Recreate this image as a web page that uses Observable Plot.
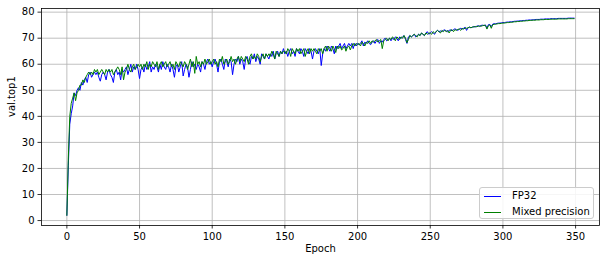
<!DOCTYPE html>
<html>
<head>
<meta charset="utf-8">
<script src="https://cdn.jsdelivr.net/npm/d3@7"></script>
<script src="https://cdn.jsdelivr.net/npm/@observablehq/plot@0.6"></script>
<style>
  html, body { margin: 0; padding: 0; background: #fff; }
  #wrap { position: relative; width: 606px; height: 263px; }
  #legend {
    position: absolute; left: 479px; top: 187px; width: 115px; height: 32px;
    border: 1px solid #cccccc; border-radius: 3px; background: rgba(255,255,255,0.85);
    font-family: "DejaVu Sans", sans-serif; font-size: 10px; color: #000; box-sizing: border-box;
  }
  .item { position: absolute; left: 0; height: 14px; display: flex; align-items: center; }
  .sw { position: absolute; left: 4px; width: 17px; height: 0; border-top: 1.2px solid; }
  .lbl { position: absolute; left: 32px; white-space: nowrap; line-height: 14px; }
</style>
</head>
<body>
<div id="wrap">
  <div id="chart"></div>
  <div id="legend"></div>
</div>
<script>
const seriesNames = ["FP32", "Mixed precision"];
const seriesColors = ["#0000ff", "#008000"];
const xTicks = [0, 50, 100, 150, 200, 250, 300, 350];
const yTicks = [0, 10, 20, 30, 40, 50, 60, 70, 80];

const fp32 = [
  2, 21, 37, 41, 44, 49, 48, 50, 51, 50,
  53, 52, 54, 55, 53, 56, 57, 55, 56, 57,
  56, 57, 55, 53.5, 56, 57, 56, 54, 57, 58,
  56, 55, 53, 57, 58, 56, 57, 54, 58, 57,
  58, 59, 56, 58, 60, 57, 59, 58, 60, 58,
  54.5, 58, 59, 57, 60, 58, 59, 61, 57, 59,
  58, 60, 59, 57, 60, 58, 61, 59, 58, 60,
  59, 57, 60, 58, 55, 59, 60, 57, 59, 61,
  55.5, 58, 60, 59, 55, 58, 61, 59, 60, 58,
  60, 59, 57, 61, 60, 58, 61, 62, 60, 61,
  59, 61, 62, 60, 57, 61, 62, 60, 58, 62,
  61, 59, 62, 61, 56, 60, 62, 61, 63, 60,
  62, 61, 58, 62, 63, 61, 60, 63, 62, 64,
  61, 63, 62, 60, 64, 63, 62, 64, 63, 62,
  64, 63, 65, 62, 64, 65, 63, 65, 64, 66,
  64, 65, 63, 65, 66, 64, 65, 63, 66, 65,
  64, 66, 65, 63, 66, 65, 64, 66, 65, 62,
  65, 66, 65, 64, 66, 59.5, 64, 66, 65, 67,
  66, 65, 67, 66, 64, 67, 66, 67, 68, 66,
  67, 68, 66, 67, 68, 67, 68, 66, 68, 67,
  68, 67.5, 68, 69, 67, 68.5, 68, 69, 68, 67.5,
  68.5, 69, 68, 69, 69.5, 68, 69, 68.5, 69.5, 70,
  69, 69.5, 70, 69, 70, 69.5, 70.5, 70, 69, 70.5,
  70, 70.5, 71, 69.5, 68, 70.5, 71, 70.5, 71, 71.5,
  70.5, 71, 71.5, 71, 72, 71.5, 71, 72, 72.5, 71.5,
  72, 72.5, 72, 71.5, 72.5, 73, 72.5, 72.8, 72.5, 73,
  73.2, 72.8, 72.5, 73, 73.2, 72.8, 73.3, 73.6, 73.3, 73,
  73.5, 73.8, 73.5, 73.8, 74.2, 73, 74, 74.3, 74, 74.2,
  74.5, 74.3, 74.6, 74.8, 74.5, 74.9, 75, 74.8, 75.1, 73.8,
  75.2, 75.3, 74.5, 75.4, 75.6, 75.5, 75.7, 75.8, 75.8, 75.9,
  76, 76, 76.1, 76.2, 76.2, 76.3, 76.3, 76.4, 76.5, 76.5,
  76.6, 76.6, 76.7, 76.7, 76.8, 76.8, 76.9, 76.9, 77, 77,
  77, 77.1, 77.1, 77.2, 77.2, 77.2, 77.3, 77.3, 77.3, 77.4,
  77.4, 77.4, 77.4, 77.5, 77.5, 77.5, 77.5, 77.5, 77.6, 77.6,
  77.6, 77.6, 77.6, 77.6, 77.6, 77.7, 77.7, 77.7, 77.7, 77.7
];

const mixed = [
  2, 24, 40, 45, 47, 49, 46, 49, 50, 52,
  52, 54, 53, 55, 56, 57, 56, 57, 56, 58,
  57, 58, 56, 57, 58, 57, 56, 58, 57, 58,
  57, 58, 56, 57, 58, 59, 58, 56, 59, 54,
  57, 58, 60, 58, 57, 59, 60, 58, 59, 60,
  59, 60, 58, 60, 59, 61, 58, 60, 59, 61,
  60, 59, 61, 58, 60, 61, 59, 60, 61, 59,
  60, 61, 59, 60, 58, 61, 60, 59, 61, 60,
  59, 61, 60, 58, 60, 62, 59, 61, 56.5, 63,
  60, 61, 59, 61, 60, 62, 60, 61, 62, 60,
  61, 62, 60, 61, 59, 62, 61, 63, 60, 61,
  62, 60, 61, 63, 61, 62, 60, 62, 63, 61,
  63, 62, 61, 63, 62, 60, 63, 64, 62, 63,
  62, 64, 63, 61, 63, 64, 62, 64, 63, 64,
  63, 65, 64, 62, 65, 64, 63, 65, 64, 65,
  65, 64, 66, 65, 63, 66, 65, 64, 66, 65,
  66, 64, 65, 66, 63, 65, 66, 64, 66, 65,
  66, 65, 64, 66, 65, 66, 64, 66, 67, 65,
  67, 66, 65, 67, 66, 64.5, 67, 66, 67, 65.5,
  66, 67, 65, 66.5, 67, 65.5, 67, 68, 67, 68,
  67.5, 68, 67, 68.5, 68, 67, 68.5, 68, 69, 68,
  69, 68.5, 69, 69.5, 68.5, 69, 69.5, 66, 69, 69.5,
  70, 69, 70, 69.5, 70.5, 70, 69, 70.5, 70, 69.5,
  70.5, 70, 71, 70, 68.3, 69.5, 71, 70.5, 71, 71.5,
  71, 70.5, 71.5, 71, 72, 71.5, 71, 72, 71.5, 72,
  72, 71.5, 72.5, 72, 72.5, 73, 72.5, 72, 73, 72.5,
  73, 72.5, 73, 72, 73, 73.3, 72.5, 73.3, 73, 73.4,
  73.5, 73, 73.8, 73.5, 73.9, 73.8, 74, 74.2, 74, 74.3,
  74.3, 74.5, 74.4, 74.6, 74.7, 74.6, 74.8, 75, 74.9, 73.5,
  74.8, 75.1, 73.8, 75.2, 75.3, 75.4, 75.5, 75.6, 75.6, 75.7,
  75.8, 75.8, 75.9, 76, 76, 76.1, 76.1, 76.2, 76.3, 76.3,
  76.4, 76.4, 76.5, 76.5, 76.6, 76.6, 76.7, 76.7, 76.8, 76.8,
  76.9, 76.9, 76.9, 77, 77, 77, 77.1, 77.1, 77.1, 77.2,
  77.2, 77.2, 77.2, 77.3, 77.3, 77.3, 77.3, 77.3, 77.4, 77.4,
  77.4, 77.4, 77.4, 77.4, 77.4, 77.5, 77.5, 77.5, 77.5, 77.5
];

const rows = (arr) => arr.map((v, i) => ({epoch: i, value: v}));
const seriesData = [rows(fp32), rows(mixed)];

const gridStyle = {stroke: "#b0b0b0", strokeOpacity: 1, strokeWidth: 0.8};

const chart = Plot.plot({
  width: 606,
  height: 263,
  marginLeft: 41,
  marginRight: 7,
  marginTop: 8,
  marginBottom: 38,
  style: {fontFamily: "DejaVu Sans, sans-serif", fontSize: "10px", color: "#000", background: "#fff"},
  x: {domain: [-17.45, 366.45]},
  y: {domain: [-1.9, 81.4]},
  marks: [
    Plot.gridX(xTicks, gridStyle),
    Plot.gridY(yTicks, gridStyle),
    Plot.line(seriesData[0], {x: "epoch", y: "value", stroke: seriesColors[0], strokeWidth: 1}),
    Plot.line(seriesData[1], {x: "epoch", y: "value", stroke: seriesColors[1], strokeWidth: 1}),
    Plot.frame({stroke: "#000", strokeWidth: 0.8}),
    Plot.axisX(xTicks, {tickSize: 3.5, tickPadding: 3.5, label: null, stroke: "#000", strokeWidth: 0.8}),
    Plot.axisY(yTicks, {tickSize: 3.5, tickPadding: 3.5, label: null, stroke: "#000", strokeWidth: 0.8}),
    Plot.text(["Epoch"], {text: d => d, frameAnchor: "bottom", dy: 26, fill: "#000"}),
    Plot.text(["val.top1"], {text: d => d, frameAnchor: "left", dx: -30, rotate: -90, fill: "#000"})
  ]
});
document.getElementById("chart").appendChild(chart);

const legend = document.getElementById("legend");
seriesNames.forEach((name, i) => {
  const item = document.createElement("div");
  item.className = "item";
  item.style.top = (1 + i * 15.5) + "px";
  item.innerHTML = `<span class="sw" style="border-color:${seriesColors[i]};top:7px"></span><span class="lbl">${name}</span>`;
  legend.appendChild(item);
});
</script>
</body>
</html>
